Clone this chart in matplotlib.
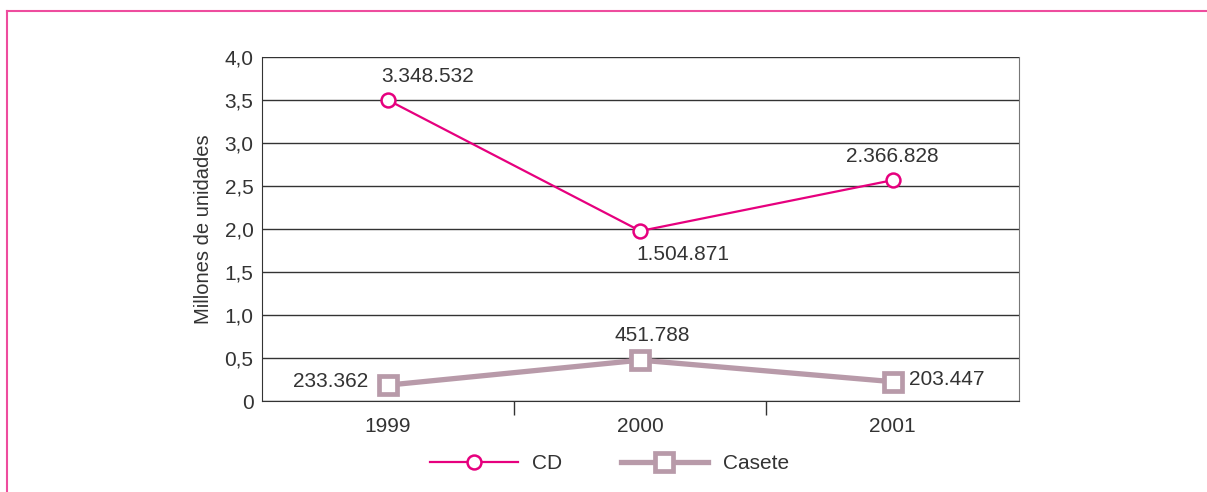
import matplotlib
matplotlib.use("Agg")
import matplotlib.pyplot as plt
from matplotlib.lines import Line2D

# datos (millones de unidades)
anios = ["1999", "2000", "2001"]
cd = [3.50, 1.98, 2.57]
casete = [0.19, 0.48, 0.23]
cd_etiquetas = ["3.348.532", "1.504.871", "2.366.828"]
casete_etiquetas = ["233.362", "451.788", "203.447"]
y_ticks = [0, 0.5, 1.0, 1.5, 2.0, 2.5, 3.0, 3.5, 4.0]
y_etiquetas = ["0", "0,5", "1,0", "1,5", "2,0", "2,5", "3,0", "3,5", "4,0"]

plt.rcParams['font.family'] = ['Liberation Sans', 'DejaVu Sans']
txt = '#333333'
rosa = '#E6007E'
malva = '#B89AA9'
fs = 15

fig = plt.figure(figsize=(12.07, 4.92), dpi=100)
ax = fig.add_axes([0.217, 0.184, 0.627, 0.700])

x = list(range(len(anios)))
ax.plot(x, cd, color=rosa, lw=1.6, marker='o', ms=10, mfc='white', mec=rosa, mew=1.8, zorder=4)
ax.plot(x, casete, color=malva, lw=3.8, marker='s', ms=13.5, mfc='white', mec=malva, mew=3.4, zorder=3)

# etiquetas de valores
cd_off = [(40, 24, 'center'), (43, -24, 'center'), (0, 24, 'center')]
for i, (dx, dy, ha) in enumerate(cd_off):
    ax.annotate(cd_etiquetas[i], (x[i], cd[i]), xytext=(dx, dy), textcoords='offset pixels',
                ha=ha, va='center', fontsize=fs, color=txt)
cas_off = [(-20, 4, 'right'), (12, 25, 'center'), (16, 2, 'left')]
for i, (dx, dy, ha) in enumerate(cas_off):
    ax.annotate(casete_etiquetas[i], (x[i], casete[i]), xytext=(dx, dy), textcoords='offset pixels',
                ha=ha, va='center', fontsize=fs, color=txt)

ax.set_xlim(-0.5, 2.5)
ax.set_ylim(0, 4.0)
ax.set_yticks(y_ticks)
ax.set_yticklabels(y_etiquetas)
ax.set_xticks(x)
ax.set_xticklabels(anios)
ax.set_xticks([0.5, 1.5], minor=True)
ax.tick_params(axis='y', length=0, pad=6, labelsize=fs, labelcolor=txt)
ax.tick_params(axis='x', which='major', length=0, pad=11, labelsize=fs, labelcolor=txt)
ax.tick_params(axis='x', which='minor', length=10, width=1, color='#333333')
ax.grid(axis='y', color='#333333', lw=1)
ax.set_axisbelow(True)
for s in ['left', 'bottom', 'top']:
    ax.spines[s].set_color('#333333')
ax.spines['top'].set_visible(False)
ax.spines['right'].set_color('#777777')
ax.set_ylabel("Millones de unidades", fontsize=14.5, color=txt, labelpad=8)

# leyenda
h1 = Line2D([], [], color=rosa, lw=1.6, marker='o', ms=10, mfc='white', mec=rosa, mew=1.8)
h2 = Line2D([], [], color=malva, lw=3.8, marker='s', ms=13.5, mfc='white', mec=malva, mew=3.4)
fig.legend([h1, h2], ["CD", "Casete"], loc='center', bbox_to_anchor=(0.505, 0.057), ncol=2,
           frameon=False, fontsize=fs, handlelength=4.2, handletextpad=0.7, columnspacing=2.8,
           labelcolor=txt)

# marco rosa
fig.add_artist(Line2D([0.006, 1.0], [0.978, 0.978], color='#EE4C9E', lw=1.5))
fig.add_artist(Line2D([0.006, 0.006], [0.0, 0.978], color='#EE4C9E', lw=1.5))

fig.savefig("out.png", dpi=100)
